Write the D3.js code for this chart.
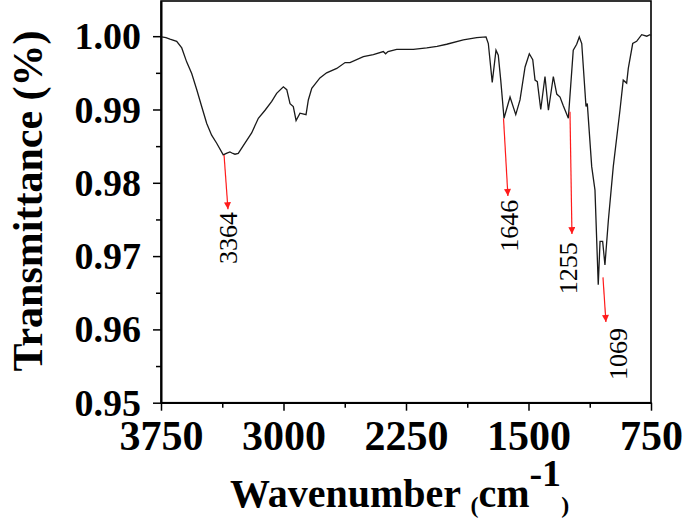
<!DOCTYPE html>
<html><head><meta charset="utf-8">
<script src="https://cdn.jsdelivr.net/npm/d3@7/dist/d3.min.js"></script>
<style>body{margin:0;background:#fff}svg{display:block}</style>
</head><body><svg id="c" width="685" height="521"></svg>
<script>
// Spectrum (wavenumber in cm-1, transmittance)
const wavenumbers = [3746,3720,3695,3654,3623,3593,3562,3531,3501,3470,3440,3409,3369,3350,3328,3310,3297,3277,3236,3195,3154,3113,3072,3042,3001,2980,2960,2940,2923,2899,2862,2848,2827,2777,2736,2674,2623,2593,2511,2450,2389,2375,2360,2307,2205,2123,2060,2001,1899,1817,1760,1746,1722,1699,1685,1670,1650,1613,1578,1552,1521,1495,1474,1460,1446,1425,1399,1378,1348,1327,1307,1287,1256,1226,1205,1189,1174,1148,1140,1113,1093,1073,1062,1046,1032,1011,981,940,920,899,889,862,838,807,776,756,750];
const transmittance = [0.9999,0.9998,0.9996,0.9993,0.9984,0.9965,0.9949,0.9927,0.9904,0.9881,0.9865,0.9854,0.9838,0.9840,0.9842,0.9840,0.9839,0.9840,0.9854,0.9868,0.9888,0.9899,0.9911,0.9922,0.9931,0.9927,0.9908,0.9904,0.9885,0.9895,0.9893,0.9913,0.9929,0.9943,0.9950,0.9956,0.9964,0.9964,0.9972,0.9975,0.9979,0.9976,0.9979,0.9982,0.9982,0.9984,0.9986,0.9989,0.9995,0.9998,0.9999,0.9990,0.9937,0.9981,0.9974,0.9940,0.9888,0.9917,0.9893,0.9913,0.9958,0.9976,0.9968,0.9940,0.9938,0.9900,0.9945,0.9899,0.9945,0.9921,0.9917,0.9905,0.9888,0.9981,0.9989,0.9999,0.9990,0.9904,0.9908,0.9822,0.9790,0.9661,0.9720,0.9720,0.9688,0.9749,0.9822,0.9899,0.9940,0.9936,0.9956,0.9990,0.9993,1.0002,1.0000,1.0002,1.0001];

const xTicks = [3750, 3000, 2250, 1500, 750];
const xMinorTicks = [3375, 2625, 1875, 1125];
const yTicks = [0.95, 0.96, 0.97, 0.98, 0.99, 1.00];
const yMinorTicks = [0.955, 0.965, 0.975, 0.985, 0.995];

// Peak annotations
const peakLabels = ["3364", "1646", "1255", "1069"];
const arrowFromWn = [3364, 1653, 1246, 1044];
const arrowFromT  = [0.9838, 0.9888, 0.9897, 0.9671];
const arrowToWn   = [3340, 1626, 1234, 1026];
const arrowToT    = [0.9764, 0.9782, 0.9730, 0.9610];
const labelWn     = [3285, 1564, 1203, 897];
const labelT      = [0.9760, 0.9777, 0.9719, 0.9602];

(function () {
const svg = d3.select("#c");
const pL = 161, pR = 651, pT = 1, pB = 402.7;
const x = d3.scaleLinear().domain([3750, 750]).range([pL, pR]);
const y = d3.scaleLinear().domain([0.95, 1.0048]).range([pB, pT]);

const serif = "Liberation Serif, Times New Roman, serif";

// frame
svg.append("rect").attr("x", pL).attr("y", pT).attr("width", pR - pL).attr("height", pB - pT)
  .attr("fill", "none").attr("stroke", "#000").attr("stroke-width", 1.6);

// y axis
const yAx = svg.append("g").attr("transform", `translate(${pL},0)`)
  .call(d3.axisLeft(y).tickValues(yTicks).tickFormat(d3.format(".2f")).tickSize(8).tickSizeOuter(0).tickPadding(12));
yAx.selectAll("text").attr("font-family", serif).attr("font-weight", "bold").attr("font-size", 38).attr("dy", "0.33em").attr("fill", "#000");
svg.append("g").attr("transform", `translate(${pL},0)`)
  .call(d3.axisLeft(y).tickValues(yMinorTicks).tickFormat("").tickSize(5).tickSizeOuter(0));

// x axis
const xAx = svg.append("g").attr("transform", `translate(0,${pB})`)
  .call(d3.axisBottom(x).tickValues(xTicks).tickFormat(d3.format("d")).tickSize(8).tickSizeOuter(0).tickPadding(9));
xAx.selectAll("text").attr("font-family", serif).attr("font-weight", "bold").attr("font-size", 42).attr("fill", "#000");
svg.append("g").attr("transform", `translate(0,${pB})`)
  .call(d3.axisBottom(x).tickValues(xMinorTicks).tickFormat("").tickSize(5).tickSizeOuter(0));

svg.selectAll(".domain").attr("stroke", "#000").attr("stroke-width", 1.6);
svg.selectAll(".tick line").attr("stroke", "#000").attr("stroke-width", 1.5);

// spectrum
const pts = wavenumbers.map((w, i) => [w, transmittance[i]]);
svg.append("path").datum(pts)
  .attr("fill", "none").attr("stroke", "#1a1a1a").attr("stroke-width", 1.3)
  .attr("d", d3.line().x(d => x(d[0])).y(d => y(d[1])));

// arrows
svg.append("defs").append("marker").attr("id", "ah")
  .attr("viewBox", "0 0 10 10").attr("refX", 10).attr("refY", 5)
  .attr("markerWidth", 11).attr("markerHeight", 7).attr("markerUnits", "userSpaceOnUse")
  .attr("orient", "auto")
  .append("path").attr("d", "M0,0 L10,5 L0,10 Z").attr("fill", "#ff1a1a");

peakLabels.forEach((lab, i) => {
  svg.append("line")
    .attr("x1", x(arrowFromWn[i])).attr("y1", y(arrowFromT[i]))
    .attr("x2", x(arrowToWn[i])).attr("y2", y(arrowToT[i]))
    .attr("stroke", "#ff1a1a").attr("stroke-width", 1.2).attr("marker-end", "url(#ah)");
  svg.append("text")
    .attr("transform", `translate(${x(labelWn[i])},${y(labelT[i])}) rotate(-90)`)
    .attr("text-anchor", "end").attr("font-family", serif).attr("font-size", 26).attr("fill", "#000")
    .text(lab);
});

// axis titles
const xt = svg.append("text").attr("x", 230).attr("y", 507)
  .attr("font-family", serif).attr("font-weight", "bold").attr("fill", "#000");
xt.append("tspan").attr("font-size", 40).text("Wavenumber ");
xt.append("tspan").attr("font-size", 24).attr("dy", 6).text("(");
xt.append("tspan").attr("font-size", 40).attr("dy", -6).text("cm");
xt.append("tspan").attr("font-size", 38).attr("dy", -21).text("-1");
xt.append("tspan").attr("font-size", 24).attr("dy", 27).text(")");

svg.append("text").attr("transform", "translate(42,201) rotate(-90)")
  .attr("text-anchor", "middle").attr("font-family", serif).attr("font-weight", "bold")
  .attr("font-size", 42).attr("fill", "#000").text("Transmittance (%)");
})();
</script>
</body></html>
